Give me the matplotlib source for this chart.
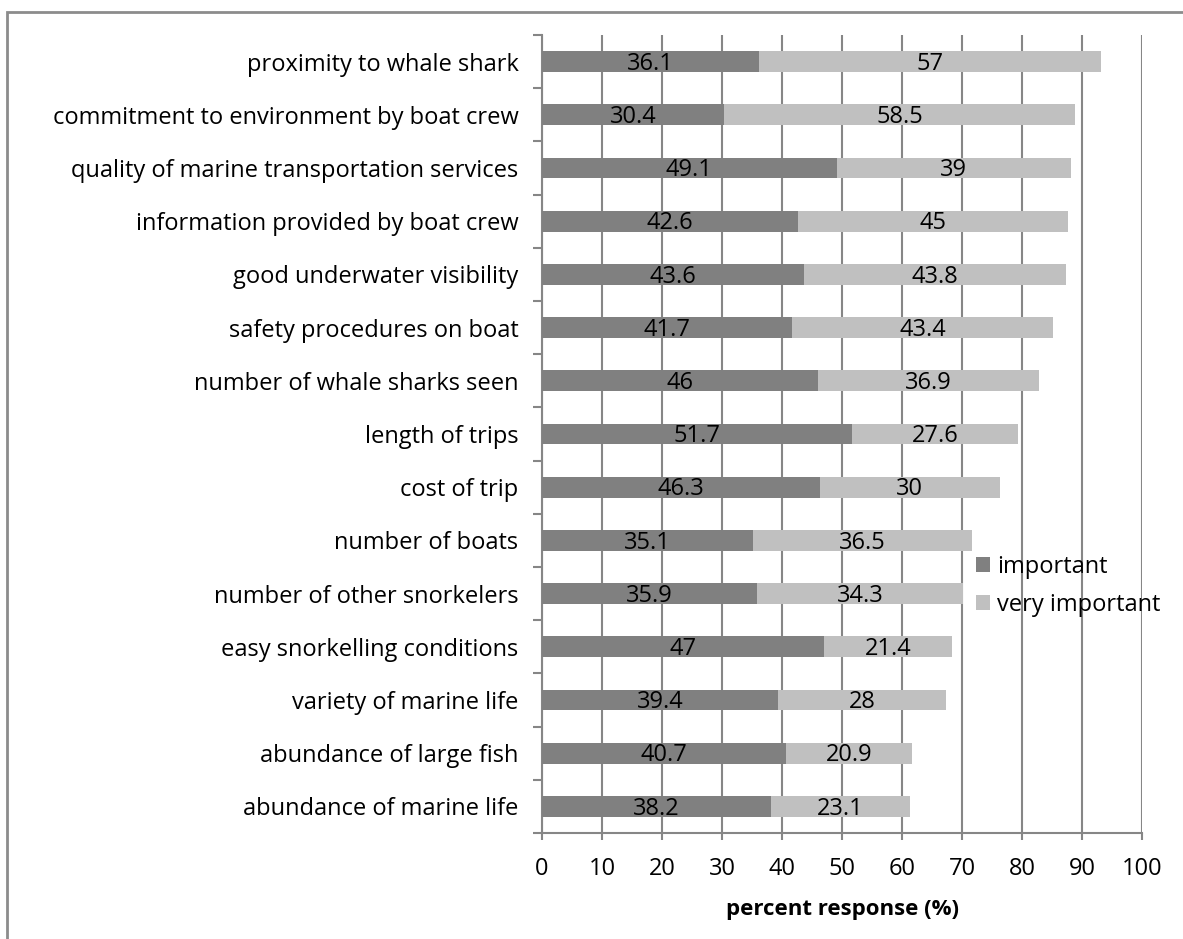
import numpy as np
import matplotlib
matplotlib.use("Agg")
import matplotlib.pyplot as plt
from matplotlib.patches import Rectangle

plt.rcParams["font.family"] = ["Open Sans", "DejaVu Sans"]

factors = [
    "proximity to whale shark",
    "commitment to environment by boat crew",
    "quality of marine transportation services",
    "information provided by boat crew",
    "good underwater visibility",
    "safety procedures on boat",
    "number of whale sharks seen",
    "length of trips",
    "cost of trip",
    "number of boats",
    "number of other snorkelers",
    "easy snorkelling conditions",
    "variety of marine life",
    "abundance of large fish",
    "abundance of marine life",
]
important = [36.1, 30.4, 49.1, 42.6, 43.6, 41.7, 46, 51.7, 46.3, 35.1, 35.9, 47, 39.4, 40.7, 38.2]
very_important = [57, 58.5, 39, 45, 43.8, 43.4, 36.9, 27.6, 30, 36.5, 34.3, 21.4, 28, 20.9, 23.1]

dark = "#808080"
light = "#c0c0c0"
axis_grey = "#868686"

fig = plt.figure(figsize=(11.83, 9.39), dpi=100)
ax = fig.add_axes([542 / 1183, 1 - 833 / 939, 600 / 1183, (833 - 35) / 939])

# outer chart frame (only top and left edges fall inside the canvas)
fig.patches.append(Rectangle((7 / 1183, -0.1), 1.2, 1.1 - 12 / 939,
                             transform=fig.transFigure, fill=False,
                             edgecolor="#8c8c8c", linewidth=2.0, zorder=0))

y = np.arange(len(factors))
h = 0.39
ax.barh(y, important, height=h, color=dark, label="important", zorder=3)
ax.barh(y, very_important, left=important, height=h, color=light,
        label="very important", zorder=3)

for i in range(len(factors)):
    ax.text(important[i] / 2, y[i] + 0.04, f"{important[i]:g}",
            ha="center", va="center", fontsize=17, color="black", zorder=4)
    ax.text(important[i] + very_important[i] / 2, y[i] + 0.04,
            f"{very_important[i]:g}", ha="center", va="center",
            fontsize=17, color="black", zorder=4)

ax.set_xlim(0, 100)
ax.set_ylim(len(factors) - 0.5, -0.5)
ax.set_xticks(np.arange(0, 101, 10))
ax.set_yticks(y)
ax.set_yticklabels(factors, fontsize=17)
ax.set_yticks(np.arange(-0.5, len(factors), 1), minor=True)

ax.grid(axis="x", color=axis_grey, linewidth=1.5, zorder=0)
ax.set_axisbelow(True)

for side in ["top", "right"]:
    ax.spines[side].set_visible(False)
for side in ["left", "bottom"]:
    ax.spines[side].set_color(axis_grey)
    ax.spines[side].set_linewidth(1.5)

ax.tick_params(axis="y", which="major", length=0, pad=17)
ax.tick_params(axis="y", which="minor", length=6.5, width=1.5, color=axis_grey)
ax.tick_params(axis="x", length=5, width=1.5, color=axis_grey,
               labelsize=17, pad=12)

ax.set_xlabel("percent response (%)", fontsize=16, fontweight="bold", labelpad=13)

ax.legend(loc="upper left", bbox_to_anchor=(0.703, 0.363), frameon=False,
          fontsize=17, handlelength=0.6, handleheight=0.6,
          handletextpad=0.3, labelspacing=0.6, borderpad=0)

fig.savefig("out.png", dpi=100)
